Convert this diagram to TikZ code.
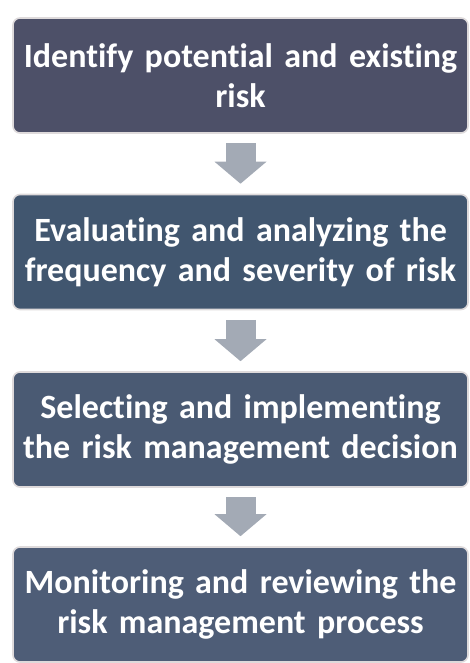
\documentclass[tikz,border=0pt]{standalone}
\usepackage{fontspec}
\setmainfont{Carlito}[Ligatures={NoCommon}]
\usetikzlibrary{arrows.meta}
\definecolor{boxA}{HTML}{4D5068}
\definecolor{boxB}{HTML}{41566F}
\definecolor{boxC}{HTML}{4A5A73}
\definecolor{boxD}{HTML}{4E5D77}
\definecolor{rim}{HTML}{DEDADB}
\definecolor{arrowgray}{HTML}{A3AAB5}
\newcommand{\boxfont}{\fontsize{34}{39.5}\selectfont\bfseries\fontdimen2\font=0.19em\relax}
\tikzset{
  stepbox/.style={draw=rim, line width=1.6pt, rounded corners=7pt,
    minimum width=455pt, minimum height=115pt, text width=452pt,
    align=center, text=white, inner sep=0pt,
    font=\boxfont},
  flow/.style={draw=arrowgray, line width=30pt,
    -{Triangle[width=52pt,length=22pt,line width=0pt]}}
}
\begin{document}
\begin{tikzpicture}[x=1pt,y=-1pt]
\useasboundingbox (0,0) rectangle (470,663);
\node[stepbox, fill=boxA] (b1) at (240.5,75.5) {Identify potential and existing\\risk};
\node[stepbox, fill=boxB] (b2) at (240.5,252) {Evaluating and analyzing the\\frequency and severity of risk};
\node[stepbox, fill=boxC] (b3) at (240.5,429.5) {Selecting and implementing\\the risk management decision};
\node[stepbox, fill=boxD] (b4) at (240.5,604.5) {Monitoring and reviewing the\\risk management process};
\draw[flow] ([yshift=-9.5pt]b1.south) -- ([yshift=10pt]b2.north);
\draw[flow] ([yshift=-9.5pt]b2.south) -- ([yshift=10pt]b3.north);
\draw[flow] ([yshift=-9.5pt]b3.south) -- ([yshift=10pt]b4.north);
\end{tikzpicture}
\end{document}
